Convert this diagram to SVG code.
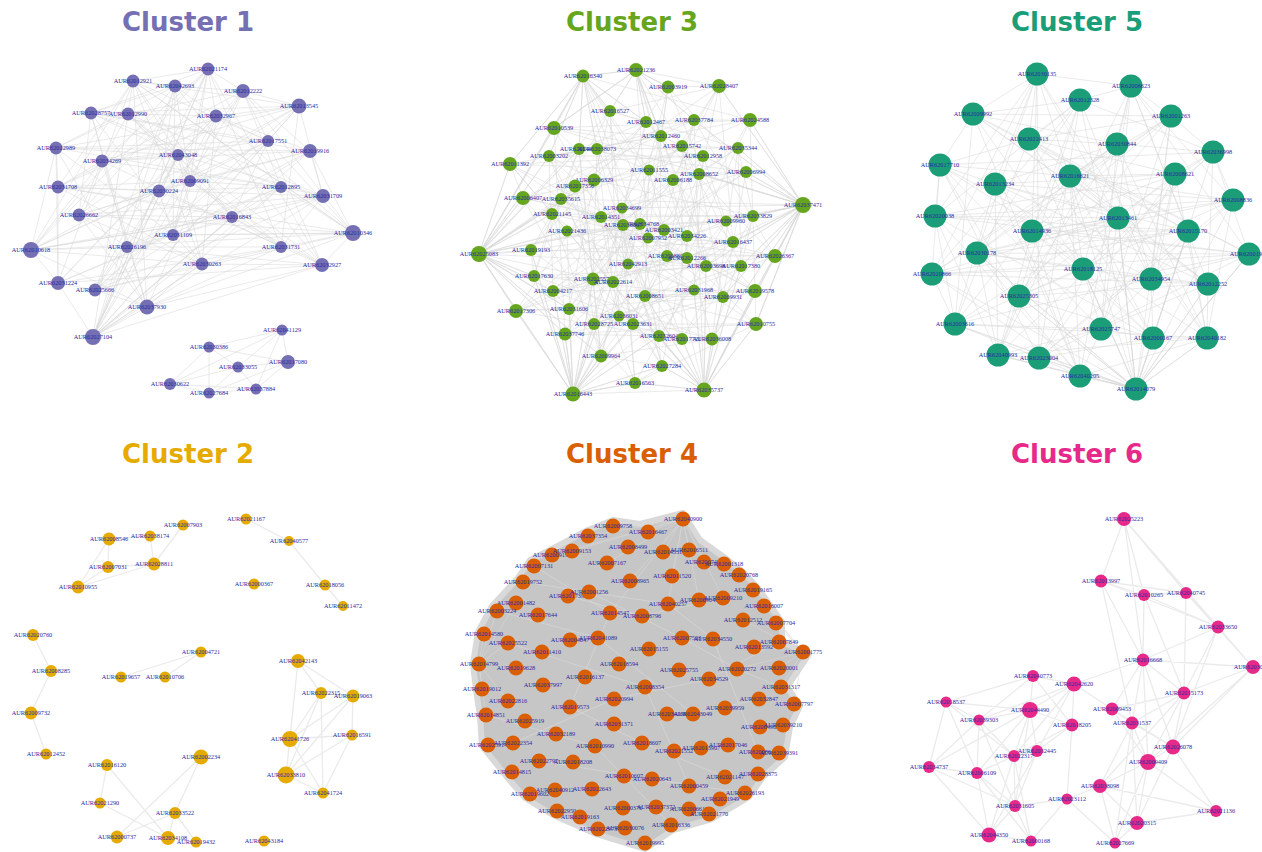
<svg xmlns="http://www.w3.org/2000/svg" width="1262" height="852" viewBox="0 0 1262 852">
<style>
.title{font-family:"DejaVu Sans",Verdana,sans-serif;font-weight:bold;font-size:26px;text-anchor:middle}
.nodes text{font-family:"Liberation Serif","Times New Roman",serif;font-size:6.3px;fill:#2a2aa0;text-anchor:middle}
.e{fill:none;stroke:#d9d9d9;stroke-width:.55;stroke-linejoin:round}
.es{fill:none;stroke:#ebebeb;stroke-width:1.3}
.c1 circle{fill:#7570b3}
.c2 circle{fill:#e6ab02}
.c3 circle{fill:#66a61e}
.c4 circle{fill:#d95f02}
.c5 circle{fill:#1b9e77}
.c6 circle{fill:#e7298a}
</style>
<rect width="1262" height="852" fill="#fff"/>

<!-- cluster titles -->
<g id="titles">
<text class="title" x="188" y="31" fill="#7570b3">Cluster 1</text>
<text class="title" x="632" y="31" fill="#66a61e">Cluster 3</text>
<text class="title" x="1077" y="31" fill="#1b9e77">Cluster 5</text>
<text class="title" x="188" y="463" fill="#e6ab02">Cluster 2</text>
<text class="title" x="632" y="463" fill="#d95f02">Cluster 4</text>
<text class="title" x="1077" y="463" fill="#e7298a">Cluster 6</text>
</g>

<g id="connectors">
<!-- cluster 1 -->
<g id="edges-c1" class="e">
<path d="M208 69L133 81L175 86L243 91L299 106L91 113L128 114L216 116L268 141L56 148L310 151L102 161L178 155L190 181L58 187L159 191L281 187L323 196L79 215L232 217L173 235L353 233L31 250L127 247L281 247L202 264L322 265L58 283L95 290L147 307L93 337Z"/>
<path d="M208 69L243 91L128 114L56 148L178 155L159 191L79 215L353 233L281 247L58 283L93 337L175 86L91 113L268 141L102 161L58 187L323 196L173 235L127 247L322 265L147 307L133 81L299 106L216 116L310 151L190 181L281 187L232 217L31 250L202 264L95 290Z"/>
<path d="M208 69L216 116L58 187L353 233L95 290L299 106L102 161L79 215L202 264L133 81L268 141L159 191L31 250L147 307L91 113L178 155L232 217L322 265L175 86L56 148L281 187L127 247L93 337L128 114L190 181L173 235L58 283L243 91L310 151L323 196L281 247Z"/>
<path d="M208 69L102 161L31 250L175 86L190 181L281 247L299 106L159 191L322 265L128 114L323 196L95 290L268 141L232 217L93 337L310 151L353 233L133 81L178 155L127 247L243 91L58 187L202 264L91 113L281 187L58 283L216 116L79 215L147 307L56 148L173 235Z"/>
<path d="M208 69L190 181L322 265L268 141L353 233L243 91L281 187L147 307L102 161L281 247L128 114L232 217L133 81L58 187L58 283L56 148L31 250L299 106L323 196L93 337L178 155L202 264L216 116L173 235L175 86L159 191L95 290L310 151L127 247L91 113L79 215Z"/>
<path d="M208 69L91 113L310 151L159 191L173 235L202 264L93 337L299 106L56 148L58 187L232 217L281 247L147 307L243 91L268 141L190 181L79 215L127 247L95 290L175 86L216 116L178 155L323 196L31 250L58 283L133 81L128 114L102 161L281 187L353 233L322 265Z"/>
<path d="M93 337L208 69M93 337L243 91M93 337L299 106M93 337L216 116M93 337L178 155M93 337L232 217M93 337L281 187M93 337L202 264M93 337L322 265M31 250L133 81M31 250L208 69M31 250L232 217M31 250L159 191M353 233L133 81M353 233L216 116M353 233L173 235M353 233L147 307"/>
<path d="M282 330L209 347M282 330L288 362M282 330L238 367M282 330L256 389M209 347L288 362M209 347L238 367M209 347L170 384M209 347L209 393M288 362L238 367M288 362L256 389M288 362L209 393M238 367L170 384M238 367L209 393M238 367L256 389M170 384L209 393M170 384L256 389M209 393L256 389M170 384L282 330"/>
</g>
<!-- cluster 3 -->
<g id="edges-c3" class="e">
<path d="M583 76L636 70L668 87L719 86L610 111L646 122L694 120L750 120L554 128L661 136L682 146L738 148L579 149L597 149L549 156L703 156L510 164L649 170L699 174L746 172L673 180L594 180L575 186L523 198L561 199L803 205L622 208L601 217L753 216L552 214L640 224L623 225L726 221L567 231L664 230L687 236L648 238L733 242L479 254L531 250L775 256L667 256L687 258L628 264L706 266L741 266L534 276L593 279L613 282L553 291L694 290L755 291L645 296L723 297L516 311L569 309L619 316L594 324L633 324L756 324L565 334L659 336L682 339L712 339L601 356L662 366L635 383L573 394L704 390"/>
<path d="M583 76L750 120L549 156L594 180L753 216L687 236L687 258L553 291L619 316L712 339L636 70L554 128L703 156L575 186L552 214L648 238L628 264L694 290L594 324L601 356L668 87L661 136L510 164L523 198L640 224L733 242L706 266L755 291L633 324L662 366L719 86L682 146L649 170L561 199L623 225L479 254L741 266L645 296L756 324L635 383L610 111L738 148L699 174L803 205L726 221L531 250L534 276L723 297L565 334L573 394L646 122L579 149L746 172L622 208L567 231L775 256L593 279L516 311L659 336L704 390L694 120L597 149L673 180L601 217L664 230L667 256L613 282L569 309L682 339Z"/>
<path d="M583 76L649 170L664 230L755 291L704 390L510 164L567 231L694 290L573 394L703 156L726 221L553 291L635 383L549 156L623 225L613 282L662 366L597 149L640 224L593 279L601 356L579 149L552 214L534 276L712 339L738 148L753 216L741 266L682 339L682 146L601 217L706 266L659 336L661 136L622 208L628 264L565 334L554 128L803 205L687 258L756 324L750 120L561 199L667 256L633 324L694 120L523 198L775 256L594 324L646 122L575 186L531 250L619 316L610 111L594 180L479 254L569 309L719 86L673 180L733 242L516 311L668 87L746 172L648 238L723 297L636 70L699 174L687 236L645 296Z"/>
<path d="M583 76L664 230L704 390L567 231L573 394L726 221L635 383L623 225L662 366L640 224L601 356L552 214L712 339L753 216L682 339L601 217L659 336L622 208L565 334L803 205L756 324L561 199L633 324L523 198L594 324L575 186L619 316L594 180L569 309L673 180L516 311L746 172L723 297L699 174L645 296L649 170L755 291L510 164L694 290L703 156L553 291L549 156L613 282L597 149L593 279L579 149L534 276L738 148L741 266L682 146L706 266L661 136L628 264L554 128L687 258L750 120L667 256L694 120L775 256L646 122L531 250L610 111L479 254L719 86L733 242L668 87L648 238L636 70L687 236Z"/>
<path d="M479 254L583 76L479 254L554 128L479 254L510 164L479 254L523 198L479 254L549 156L479 254L552 214L479 254L534 276L479 254L516 311L479 254L565 334L479 254L573 394L479 254L553 291L479 254L567 231L479 254L561 199L479 254L579 149L479 254L569 309L479 254L601 356L479 254L594 180L479 254L640 224L479 254L613 282"/>
<path d="M803 205L719 86L803 205L750 120L803 205L738 148L803 205L746 172L803 205L753 216L803 205L775 256L803 205L741 266L803 205L755 291L803 205L756 324L803 205L704 390L803 205L733 242L803 205L726 221L803 205L703 156L803 205L699 174L803 205L723 297L803 205L694 120L803 205L706 266L803 205L712 339L803 205L664 230"/>
<path d="M573 394L516 311L573 394L565 334L573 394L601 356L573 394L635 383L573 394L594 324L573 394L569 309L573 394L553 291L573 394L534 276L573 394L531 250L573 394L593 279L573 394L613 282L573 394L619 316L573 394L633 324L573 394L659 336L573 394L662 366L573 394L645 296"/>
<path d="M704 390L756 324L704 390L712 339L704 390L682 339L704 390L662 366L704 390L635 383L704 390L659 336L704 390L723 297L704 390L755 291L704 390L694 290L704 390L645 296L704 390L633 324L704 390L741 266L704 390L706 266L704 390L775 256"/>
<path d="M583 76L554 128L583 76L610 111L583 76L549 156L583 76L579 149L583 76L597 149L583 76L646 122L583 76L510 164L583 76L636 70L668 87L636 70L610 111L636 70L646 122L636 70L661 136L636 70L694 120L636 70L554 128L636 70L719 86"/>
</g>
<!-- cluster 5 -->
<g id="edges-c5" class="e">
<path d="M1037 74L1131 86L1080 100L973 114L1171 116L1029 139L1117 144L1213 152L940 165L1070 176L1175 174L995 184L1233 200L935 216L1118 218L1032 231L1188 231L977 253L1249 254L932 274L1083 269L1151 279L1208 284L1019 296L955 324L1101 329L1153 338L1207 338L998 355L1039 358L1080 376L1136 389Z"/>
<path d="M1037 74L973 114L1117 144L1070 176L1233 200L1032 231L1249 254L1151 279L955 324L1207 338L1080 376L1131 86L1171 116L1213 152L1175 174L935 216L1188 231L932 274L1208 284L1101 329L998 355L1136 389L1080 100L1029 139L940 165L995 184L1118 218L977 253L1083 269L1019 296L1153 338L1039 358Z"/>
<path d="M1037 74L1029 139L1175 174L1032 231L1083 269L1101 329L1080 376L973 114L940 165L935 216L1249 254L1019 296L998 355L1131 86L1117 144L995 184L1188 231L1151 279L1153 338L1136 389L1171 116L1070 176L1118 218L932 274L955 324L1039 358L1080 100L1213 152L1233 200L977 253L1208 284L1207 338Z"/>
<path d="M1037 74L995 184L1208 284L1131 86L1233 200L1019 296L1080 100L935 216L955 324L973 114L1118 218L1101 329L1171 116L1032 231L1153 338L1029 139L1188 231L1207 338L1117 144L977 253L998 355L1213 152L1249 254L1039 358L940 165L932 274L1080 376L1070 176L1083 269L1136 389L1175 174L1151 279Z"/>
<path d="M1037 74L935 216L1153 338L1213 152L1083 269L1131 86L1118 218L1207 338L940 165L1151 279L1080 100L1032 231L998 355L1070 176L1208 284L973 114L1188 231L1039 358L1175 174L1019 296L1171 116L977 253L1080 376L995 184L955 324L1029 139L1249 254L1136 389L1233 200L1101 329L1117 144L932 274Z"/>
<path d="M1037 74L1032 231L1080 376L935 216L998 355L995 184L1153 338L1070 176L955 324L1213 152L1208 284L1029 139L1083 269L973 114L1249 254L1131 86L1188 231L1136 389L1118 218L1039 358L1233 200L1207 338L1175 174L1101 329L940 165L1019 296L1117 144L1151 279L1171 116L932 274L1080 100L977 253Z"/>
<path d="M1136 389L1039 358L1136 389L998 355L1136 389L955 324L1136 389L1019 296L1136 389L1083 269L1136 389L1118 218L1136 389L1188 231L1136 389L1208 284L1136 389L1207 338L1136 389L1249 254L1136 389L977 253L1136 389L932 274"/>
</g>
<!-- cluster 4: edges dense enough to merge into a grey mass -->
<g id="edges-c4">
<path d="M683 513L640 524L613 520L588 530L552 549L530 560L518 578L492 606L478 632L473 664L476 690L480 716L482 746L506 776L525 798L553 815L596 834L645 849L673 830L712 819L749 797L763 777L785 757L790 727L800 706L787 687L809 654L782 642L782 622L770 605L758 588L743 572L728 560L700 540Z" fill="#c6c6c6" stroke="#d9d9d9" stroke-width="6" stroke-linejoin="round"/>
<path class="e" d="M683 519L613 526M683 519L588 536M683 519L648 532M683 519L663 552M683 519L689 550M683 519L704 562M683 519L724 564M683 519L739 575M683 519L607 563M683 519L672 576M683 519L630 581M683 519L610 613M683 519L668 604M683 519L699 600M683 519L723 598M683 519L572 551M683 519L552 555M803 652L764 606M803 652L776 623M803 652L779 642M803 652L779 668M803 652L781 687M803 652L794 704M803 652L737 669M803 652L754 647M803 652L743 620M803 652L753 590M479 664L484 634M479 664L497 611M479 664L482 689M479 664L486 715M479 664L508 643M479 664L516 668M479 664L508 701M479 664L516 603"/>
<path d="M534 566L610 613L570 707L642 743L725 777M523 582L668 604L713 639L758 752M497 611L598 638L693 714L759 699M508 643L645 687L689 786M486 715L595 746L671 825M513 743L614 699L709 679L779 642M539 761L652 779L745 793M568 596L642 616L723 598M589 592L682 638L737 669L781 687" fill="none" stroke="#dcdcdc" stroke-width=".8" opacity=".7"/>
</g>
<!-- cluster 2 -->
<g id="edges-c2" class="es">
<path d="M109 539L150 536M109 539L108 567M109 539L78 587M150 536L154 564M183 525L154 564M108 567L154 564M78 587L154 564M108 567L78 587M246 519L289 541L325 585L343 606M33 635L51 671L31 713L46 754M201 652L121 677M201 652L165 677M298 661L321 693M298 661L353 696M298 661L290 739M298 661L286 775M321 693L353 696M321 693L290 739M321 693L286 775M321 693L323 793M353 696L352 735M353 696L290 739M353 696L286 775M352 735L290 739M352 735L286 775M290 739L286 775M290 739L323 793M286 775L323 793M352 735L323 793M107 765L100 803M107 765L168 838M100 803L168 838M201 757L175 813M201 757L117 837M175 813L168 838M175 813L196 842M175 813L117 837"/>
</g>
<!-- cluster 6 -->
<g id="edges-c6" class="es">
<path d="M1124 519L1101 581M1124 519L1144 595M1124 519L1186 593M1124 519L1218 627M1124 519L1143 660M1101 581L1144 595M1101 581L1186 593M1101 581L1143 660M1101 581L1218 627M1101 581L1132 723M1144 595L1186 593M1144 595L1218 627M1144 595L1143 660M1144 595L1184 693M1186 593L1218 627M1186 593L1184 693M1186 593L1253 667M1218 627L1253 667M1218 627L1143 660M1218 627L1184 693M1218 627L1173 747M1143 660L1253 667M1143 660L1074 684M1143 660L1184 693M1143 660L1132 723M1143 660L1173 747M1143 660L1148 762M1143 660L1112 709M1253 667L1173 747M1253 667L1184 693M1253 667L1148 762M1033 676L1074 684M1033 676L946 702M1033 676L1030 710M1033 676L979 720M1033 676L1072 725M1074 684L1030 710M1074 684L1112 709M1074 684L1072 725M1074 684L1037 751M1074 684L1014 756M1074 684L979 720M1184 693L1132 723M1184 693L1173 747M1184 693L1148 762M1184 693L1112 709M1184 693L1100 786M946 702L1030 710M946 702L979 720M946 702L929 767M946 702L977 773M946 702L1014 756M1030 710L979 720M1030 710L1072 725M1030 710L1037 751M1030 710L1014 756M1030 710L929 767M1030 710L977 773M1030 710L1015 806M1112 709L1132 723M1112 709L1173 747M1112 709L1148 762M979 720L929 767M979 720L977 773M979 720L1014 756M979 720L1015 806M1132 723L1173 747M1132 723L1148 762M1132 723L1100 786M1132 723L1137 823M1132 723L1115 843M1072 725L1037 751M1072 725L1067 799M1072 725L1014 756M1173 747L1148 762M1173 747L1216 811M1173 747L1137 823M1037 751L1014 756M1037 751L1015 806M1037 751L989 835M1014 756L1015 806M1014 756L977 773M1014 756L989 835M1014 756L1031 841M1148 762L1100 786M1148 762L1216 811M1148 762L1137 823M1148 762L1115 843M929 767L977 773M929 767L989 835M929 767L1015 806M977 773L1015 806M977 773L989 835M977 773L1031 841M1100 786L1067 799M1100 786L1137 823M1100 786L1115 843M1100 786L1216 811M1067 799L1015 806M1067 799L1115 843M1067 799L1031 841M1015 806L989 835M1015 806L1031 841M1216 811L1137 823M1137 823L1115 843M989 835L1031 841"/>
</g>
</g>

<g id="nodes" class="nodes">
<g id="cluster-1" class="c1">
<g id="c1-21174"><circle cx="208" cy="69" r="6.5"/><text x="208" y="71.1">AUR62021174</text></g>
<g id="c1-12921"><circle cx="133" cy="81" r="6.5"/><text x="133" y="83.1">AUR62012921</text></g>
<g id="c1-42693"><circle cx="175" cy="86" r="6.5"/><text x="175" y="88.1">AUR62042693</text></g>
<g id="c1-12222"><circle cx="243" cy="91" r="7"/><text x="243" y="93.1">AUR62012222</text></g>
<g id="c1-13545"><circle cx="299" cy="106" r="7.5"/><text x="299" y="108.1">AUR62013545</text></g>
<g id="c1-28757"><circle cx="91" cy="113" r="6.5"/><text x="91" y="115.1">AUR62028757</text></g>
<g id="c1-12990"><circle cx="128" cy="114" r="6.5"/><text x="128" y="116.1">AUR62012990</text></g>
<g id="c1-32967"><circle cx="216" cy="116" r="6.5"/><text x="216" y="118.1">AUR62032967</text></g>
<g id="c1-17551"><circle cx="268" cy="141" r="6"/><text x="268" y="143.1">AUR62017551</text></g>
<g id="c1-12989"><circle cx="56" cy="148" r="6.5"/><text x="56" y="150.1">AUR62012989</text></g>
<g id="c1-19916"><circle cx="310" cy="151" r="7"/><text x="310" y="153.1">AUR62019916</text></g>
<g id="c1-34269"><circle cx="102" cy="161" r="6.5"/><text x="102" y="163.1">AUR62034269</text></g>
<g id="c1-43048"><circle cx="178" cy="155" r="6"/><text x="178" y="157.1">AUR62043048</text></g>
<g id="c1-09091"><circle cx="190" cy="181" r="6"/><text x="190" y="183.1">AUR62009091</text></g>
<g id="c1-31708"><circle cx="58" cy="187" r="6.5"/><text x="58" y="189.1">AUR62031708</text></g>
<g id="c1-30224"><circle cx="159" cy="191" r="6.5"/><text x="159" y="193.1">AUR62030224</text></g>
<g id="c1-12895"><circle cx="281" cy="187" r="6"/><text x="281" y="189.1">AUR62012895</text></g>
<g id="c1-31709"><circle cx="323" cy="196" r="7"/><text x="323" y="198.1">AUR62031709</text></g>
<g id="c1-26662"><circle cx="79" cy="215" r="6.5"/><text x="79" y="217.1">AUR62026662</text></g>
<g id="c1-16843"><circle cx="232" cy="217" r="6"/><text x="232" y="219.1">AUR62016843</text></g>
<g id="c1-31109"><circle cx="173" cy="235" r="6"/><text x="173" y="237.1">AUR62031109</text></g>
<g id="c1-10346"><circle cx="353" cy="233" r="8"/><text x="353" y="235.1">AUR62010346</text></g>
<g id="c1-10618"><circle cx="31" cy="250" r="8"/><text x="31" y="252.1">AUR62010618</text></g>
<g id="c1-26196"><circle cx="127" cy="247" r="6"/><text x="127" y="249.1">AUR62026196</text></g>
<g id="c1-31731"><circle cx="281" cy="247" r="6"/><text x="281" y="249.1">AUR62031731</text></g>
<g id="c1-30263"><circle cx="202" cy="264" r="6.5"/><text x="202" y="266.1">AUR62030263</text></g>
<g id="c1-32927"><circle cx="322" cy="265" r="7"/><text x="322" y="267.1">AUR62032927</text></g>
<g id="c1-31224"><circle cx="58" cy="283" r="7"/><text x="58" y="285.1">AUR62031224</text></g>
<g id="c1-25666"><circle cx="95" cy="290" r="6.5"/><text x="95" y="292.1">AUR62025666</text></g>
<g id="c1-37930"><circle cx="147" cy="307" r="7.5"/><text x="147" y="309.1">AUR62037930</text></g>
<g id="c1-27104"><circle cx="93" cy="337" r="8"/><text x="93" y="339.1">AUR62027104</text></g>
<g id="c1-41129"><circle cx="282" cy="330" r="5.5"/><text x="282" y="332.1">AUR62041129</text></g>
<g id="c1-30386"><circle cx="209" cy="347" r="5.5"/><text x="209" y="349.1">AUR62030386</text></g>
<g id="c1-17080"><circle cx="288" cy="362" r="7"/><text x="288" y="364.1">AUR62017080</text></g>
<g id="c1-33055"><circle cx="238" cy="367" r="5.5"/><text x="238" y="369.1">AUR62033055</text></g>
<g id="c1-30622"><circle cx="170" cy="384" r="6"/><text x="170" y="386.1">AUR62030622</text></g>
<g id="c1-27684"><circle cx="209" cy="393" r="5.5"/><text x="209" y="395.1">AUR62027684</text></g>
<g id="c1-37884"><circle cx="256" cy="389" r="5.5"/><text x="256" y="391.1">AUR62037884</text></g>
</g>

<g id="cluster-3" class="c3">
<g id="c3-16340"><circle cx="583" cy="76" r="6.5"/><text x="583" y="78.1">AUR62016340</text></g>
<g id="c3-21236"><circle cx="636" cy="70" r="7"/><text x="636" y="72.1">AUR62021236</text></g>
<g id="c3-03919"><circle cx="668" cy="87" r="6.5"/><text x="668" y="89.1">AUR62003919</text></g>
<g id="c3-28407"><circle cx="719" cy="86" r="7"/><text x="719" y="88.1">AUR62028407</text></g>
<g id="c3-16527"><circle cx="610" cy="111" r="6"/><text x="610" y="113.1">AUR62016527</text></g>
<g id="c3-12467"><circle cx="646" cy="122" r="6"/><text x="646" y="124.1">AUR62012467</text></g>
<g id="c3-37784"><circle cx="694" cy="120" r="6"/><text x="694" y="122.1">AUR62037784</text></g>
<g id="c3-24588"><circle cx="750" cy="120" r="7"/><text x="750" y="122.1">AUR62024588</text></g>
<g id="c3-10539"><circle cx="554" cy="128" r="7"/><text x="554" y="130.1">AUR62010539</text></g>
<g id="c3-12460"><circle cx="661" cy="136" r="6"/><text x="661" y="138.1">AUR62012460</text></g>
<g id="c3-15742"><circle cx="682" cy="146" r="6"/><text x="682" y="148.1">AUR62015742</text></g>
<g id="c3-35344"><circle cx="738" cy="148" r="6"/><text x="738" y="150.1">AUR62035344</text></g>
<g id="c3-24417"><circle cx="579" cy="149" r="6"/><text x="579" y="151.1">AUR62024417</text></g>
<g id="c3-38073"><circle cx="597" cy="149" r="6"/><text x="597" y="151.1">AUR62038073</text></g>
<g id="c3-03202"><circle cx="549" cy="156" r="6"/><text x="549" y="158.1">AUR62003202</text></g>
<g id="c3-12958"><circle cx="703" cy="156" r="6"/><text x="703" y="158.1">AUR62012958</text></g>
<g id="c3-11392"><circle cx="510" cy="164" r="7"/><text x="510" y="166.1">AUR62011392</text></g>
<g id="c3-11555"><circle cx="649" cy="170" r="5.5"/><text x="649" y="172.1">AUR62011555</text></g>
<g id="c3-08652"><circle cx="699" cy="174" r="6"/><text x="699" y="176.1">AUR62008652</text></g>
<g id="c3-06994"><circle cx="746" cy="172" r="6"/><text x="746" y="174.1">AUR62006994</text></g>
<g id="c3-06188"><circle cx="673" cy="180" r="6"/><text x="673" y="182.1">AUR62006188</text></g>
<g id="c3-06329"><circle cx="594" cy="180" r="6.5"/><text x="594" y="182.1">AUR62006329</text></g>
<g id="c3-17356"><circle cx="575" cy="186" r="6.5"/><text x="575" y="188.1">AUR62017356</text></g>
<g id="c3-06407"><circle cx="523" cy="198" r="7"/><text x="523" y="200.1">AUR62006407</text></g>
<g id="c3-35615"><circle cx="561" cy="199" r="6"/><text x="561" y="201.1">AUR62035615</text></g>
<g id="c3-37471"><circle cx="803" cy="205" r="8"/><text x="803" y="207.1">AUR62037471</text></g>
<g id="c3-34699"><circle cx="622" cy="208" r="5.5"/><text x="622" y="210.1">AUR62034699</text></g>
<g id="c3-14351"><circle cx="601" cy="217" r="6"/><text x="601" y="219.1">AUR62014351</text></g>
<g id="c3-33829"><circle cx="753" cy="216" r="6"/><text x="753" y="218.1">AUR62033829</text></g>
<g id="c3-21145"><circle cx="552" cy="214" r="6"/><text x="552" y="216.1">AUR62021145</text></g>
<g id="c3-34768"><circle cx="640" cy="224" r="6"/><text x="640" y="226.1">AUR62034768</text></g>
<g id="c3-36067"><circle cx="623" cy="225" r="6"/><text x="623" y="227.1">AUR62036067</text></g>
<g id="c3-09960"><circle cx="726" cy="221" r="5.5"/><text x="726" y="223.1">AUR62009960</text></g>
<g id="c3-21436"><circle cx="567" cy="231" r="5.5"/><text x="567" y="233.1">AUR62021436</text></g>
<g id="c3-03421"><circle cx="664" cy="230" r="6"/><text x="664" y="232.1">AUR62003421</text></g>
<g id="c3-34226"><circle cx="687" cy="236" r="6"/><text x="687" y="238.1">AUR62034226</text></g>
<g id="c3-07952"><circle cx="648" cy="238" r="5.5"/><text x="648" y="240.1">AUR62007952</text></g>
<g id="c3-16437"><circle cx="733" cy="242" r="6"/><text x="733" y="244.1">AUR62016437</text></g>
<g id="c3-25083"><circle cx="479" cy="254" r="8"/><text x="479" y="256.1">AUR62025083</text></g>
<g id="c3-19193"><circle cx="531" cy="250" r="6"/><text x="531" y="252.1">AUR62019193</text></g>
<g id="c3-26367"><circle cx="775" cy="256" r="7"/><text x="775" y="258.1">AUR62026367</text></g>
<g id="c3-08802"><circle cx="667" cy="256" r="6"/><text x="667" y="258.1">AUR62008802</text></g>
<g id="c3-12266"><circle cx="687" cy="258" r="6"/><text x="687" y="260.1">AUR62012266</text></g>
<g id="c3-42913"><circle cx="628" cy="264" r="5.5"/><text x="628" y="266.1">AUR62042913</text></g>
<g id="c3-03698"><circle cx="706" cy="266" r="6"/><text x="706" y="268.1">AUR62003698</text></g>
<g id="c3-17380"><circle cx="741" cy="266" r="6"/><text x="741" y="268.1">AUR62017380</text></g>
<g id="c3-17630"><circle cx="534" cy="276" r="6"/><text x="534" y="278.1">AUR62017630</text></g>
<g id="c3-25572"><circle cx="593" cy="279" r="6.5"/><text x="593" y="281.1">AUR62025572</text></g>
<g id="c3-22614"><circle cx="613" cy="282" r="6"/><text x="613" y="284.1">AUR62022614</text></g>
<g id="c3-04217"><circle cx="553" cy="291" r="6"/><text x="553" y="293.1">AUR62004217</text></g>
<g id="c3-31968"><circle cx="694" cy="290" r="5.5"/><text x="694" y="292.1">AUR62031968</text></g>
<g id="c3-19578"><circle cx="755" cy="291" r="7"/><text x="755" y="293.1">AUR62019578</text></g>
<g id="c3-08651"><circle cx="645" cy="296" r="6"/><text x="645" y="298.1">AUR62008651</text></g>
<g id="c3-09931"><circle cx="723" cy="297" r="6"/><text x="723" y="299.1">AUR62009931</text></g>
<g id="c3-17306"><circle cx="516" cy="311" r="7"/><text x="516" y="313.1">AUR62017306</text></g>
<g id="c3-31606"><circle cx="569" cy="309" r="6"/><text x="569" y="311.1">AUR62031606</text></g>
<g id="c3-36031"><circle cx="619" cy="316" r="5.5"/><text x="619" y="318.1">AUR62036031</text></g>
<g id="c3-28725"><circle cx="594" cy="324" r="6"/><text x="594" y="326.1">AUR62028725</text></g>
<g id="c3-23631"><circle cx="633" cy="324" r="6"/><text x="633" y="326.1">AUR62023631</text></g>
<g id="c3-10755"><circle cx="756" cy="324" r="7"/><text x="756" y="326.1">AUR62010755</text></g>
<g id="c3-37746"><circle cx="565" cy="334" r="6.5"/><text x="565" y="336.1">AUR62037746</text></g>
<g id="c3-32604"><circle cx="659" cy="336" r="6"/><text x="659" y="338.1">AUR62032604</text></g>
<g id="c3-17721"><circle cx="682" cy="339" r="6"/><text x="682" y="341.1">AUR62017721</text></g>
<g id="c3-36008"><circle cx="712" cy="339" r="6.5"/><text x="712" y="341.1">AUR62036008</text></g>
<g id="c3-09964"><circle cx="601" cy="356" r="6.5"/><text x="601" y="358.1">AUR62009964</text></g>
<g id="c3-27284"><circle cx="662" cy="366" r="6"/><text x="662" y="368.1">AUR62027284</text></g>
<g id="c3-16563"><circle cx="635" cy="383" r="6"/><text x="635" y="385.1">AUR62016563</text></g>
<g id="c3-16443"><circle cx="573" cy="394" r="7.5"/><text x="573" y="396.1">AUR62016443</text></g>
<g id="c3-35737"><circle cx="704" cy="390" r="7.5"/><text x="704" y="392.1">AUR62035737</text></g>
</g>

<g id="cluster-5" class="c5">
<g id="c5-30135"><circle cx="1037" cy="74" r="11.5"/><text x="1037" y="76.1">AUR62030135</text></g>
<g id="c5-06623"><circle cx="1131" cy="86" r="11.5"/><text x="1131" y="88.1">AUR62006623</text></g>
<g id="c5-12328"><circle cx="1080" cy="100" r="11.5"/><text x="1080" y="102.1">AUR62012328</text></g>
<g id="c5-09992"><circle cx="973" cy="114" r="11.5"/><text x="973" y="116.1">AUR62009992</text></g>
<g id="c5-01263"><circle cx="1171" cy="116" r="11.5"/><text x="1171" y="118.1">AUR62001263</text></g>
<g id="c5-22413"><circle cx="1029" cy="139" r="11.5"/><text x="1029" y="141.1">AUR62022413</text></g>
<g id="c5-30844"><circle cx="1117" cy="144" r="11.5"/><text x="1117" y="146.1">AUR62030844</text></g>
<g id="c5-36998"><circle cx="1213" cy="152" r="11.5"/><text x="1213" y="154.1">AUR62036998</text></g>
<g id="c5-17710"><circle cx="940" cy="165" r="11.5"/><text x="940" y="167.1">AUR62017710</text></g>
<g id="c5-16621"><circle cx="1070" cy="176" r="11.5"/><text x="1070" y="178.1">AUR62016621</text></g>
<g id="c5-08621"><circle cx="1175" cy="174" r="11.5"/><text x="1175" y="176.1">AUR62008621</text></g>
<g id="c5-13234"><circle cx="995" cy="184" r="11.5"/><text x="995" y="186.1">AUR62013234</text></g>
<g id="c5-08836"><circle cx="1233" cy="200" r="11.5"/><text x="1233" y="202.1">AUR62008836</text></g>
<g id="c5-20038"><circle cx="935" cy="216" r="11.5"/><text x="935" y="218.1">AUR62020038</text></g>
<g id="c5-13461"><circle cx="1118" cy="218" r="11.5"/><text x="1118" y="220.1">AUR62013461</text></g>
<g id="c5-14936"><circle cx="1032" cy="231" r="11.5"/><text x="1032" y="233.1">AUR62014936</text></g>
<g id="c5-15170"><circle cx="1188" cy="231" r="11.5"/><text x="1188" y="233.1">AUR62015170</text></g>
<g id="c5-30178"><circle cx="977" cy="253" r="11.5"/><text x="977" y="255.1">AUR62030178</text></g>
<g id="c5-01919"><circle cx="1249" cy="254" r="11.5"/><text x="1249" y="256.1">AUR62001919</text></g>
<g id="c5-20866"><circle cx="932" cy="274" r="11.5"/><text x="932" y="276.1">AUR62020866</text></g>
<g id="c5-18125"><circle cx="1083" cy="269" r="11.5"/><text x="1083" y="271.1">AUR62018125</text></g>
<g id="c5-34954"><circle cx="1151" cy="279" r="11.5"/><text x="1151" y="281.1">AUR62034954</text></g>
<g id="c5-12252"><circle cx="1208" cy="284" r="11.5"/><text x="1208" y="286.1">AUR62012252</text></g>
<g id="c5-25305"><circle cx="1019" cy="296" r="11.5"/><text x="1019" y="298.1">AUR62025305</text></g>
<g id="c5-03616"><circle cx="955" cy="324" r="11.5"/><text x="955" y="326.1">AUR62003616</text></g>
<g id="c5-25747"><circle cx="1101" cy="329" r="11.5"/><text x="1101" y="331.1">AUR62025747</text></g>
<g id="c5-00167"><circle cx="1153" cy="338" r="11.5"/><text x="1153" y="340.1">AUR62000167</text></g>
<g id="c5-40182"><circle cx="1207" cy="338" r="11.5"/><text x="1207" y="340.1">AUR62040182</text></g>
<g id="c5-40993"><circle cx="998" cy="355" r="11.5"/><text x="998" y="357.1">AUR62040993</text></g>
<g id="c5-23004"><circle cx="1039" cy="358" r="11.5"/><text x="1039" y="360.1">AUR62023004</text></g>
<g id="c5-40205"><circle cx="1080" cy="376" r="11.5"/><text x="1080" y="378.1">AUR62040205</text></g>
<g id="c5-14079"><circle cx="1136" cy="389" r="11.5"/><text x="1136" y="391.1">AUR62014079</text></g>
</g>

<g id="cluster-2" class="c2">
<g id="c2-08546"><circle cx="109" cy="539" r="6.5"/><text x="109" y="541.1">AUR62008546</text></g>
<g id="c2-38174"><circle cx="150" cy="536" r="5.5"/><text x="150" y="538.1">AUR62038174</text></g>
<g id="c2-07903"><circle cx="183" cy="525" r="5.5"/><text x="183" y="527.1">AUR62007903</text></g>
<g id="c2-21167"><circle cx="246" cy="519" r="5.5"/><text x="246" y="521.1">AUR62021167</text></g>
<g id="c2-40577"><circle cx="289" cy="541" r="5"/><text x="289" y="543.1">AUR62040577</text></g>
<g id="c2-07031"><circle cx="108" cy="567" r="6"/><text x="108" y="569.1">AUR62007031</text></g>
<g id="c2-28811"><circle cx="154" cy="564" r="6.5"/><text x="154" y="566.1">AUR62028811</text></g>
<g id="c2-10955"><circle cx="78" cy="587" r="6.5"/><text x="78" y="589.1">AUR62010955</text></g>
<g id="c2-00367"><circle cx="254" cy="584" r="5.5"/><text x="254" y="586.1">AUR62000367</text></g>
<g id="c2-18056"><circle cx="325" cy="585" r="5.5"/><text x="325" y="587.1">AUR62018056</text></g>
<g id="c2-11472"><circle cx="343" cy="606" r="5"/><text x="343" y="608.1">AUR62011472</text></g>
<g id="c2-20760"><circle cx="33" cy="635" r="6"/><text x="33" y="637.1">AUR62020760</text></g>
<g id="c2-04721"><circle cx="201" cy="652" r="5.5"/><text x="201" y="654.1">AUR62004721</text></g>
<g id="c2-08285"><circle cx="51" cy="671" r="6"/><text x="51" y="673.1">AUR62008285</text></g>
<g id="c2-19657"><circle cx="121" cy="677" r="5.5"/><text x="121" y="679.1">AUR62019657</text></g>
<g id="c2-10706"><circle cx="165" cy="677" r="5.5"/><text x="165" y="679.1">AUR62010706</text></g>
<g id="c2-42143"><circle cx="298" cy="661" r="7"/><text x="298" y="663.1">AUR62042143</text></g>
<g id="c2-22315"><circle cx="321" cy="693" r="6"/><text x="321" y="695.1">AUR62022315</text></g>
<g id="c2-19063"><circle cx="353" cy="696" r="6.5"/><text x="353" y="698.1">AUR62019063</text></g>
<g id="c2-09732"><circle cx="31" cy="713" r="6.5"/><text x="31" y="715.1">AUR62009732</text></g>
<g id="c2-16591"><circle cx="352" cy="735" r="5.5"/><text x="352" y="737.1">AUR62016591</text></g>
<g id="c2-41726"><circle cx="290" cy="739" r="8"/><text x="290" y="741.1">AUR62041726</text></g>
<g id="c2-12452"><circle cx="46" cy="754" r="5.5"/><text x="46" y="756.1">AUR62012452</text></g>
<g id="c2-02234"><circle cx="201" cy="757" r="7.5"/><text x="201" y="759.1">AUR62002234</text></g>
<g id="c2-16120"><circle cx="107" cy="765" r="6"/><text x="107" y="767.1">AUR62016120</text></g>
<g id="c2-33810"><circle cx="286" cy="775" r="8.5"/><text x="286" y="777.1">AUR62033810</text></g>
<g id="c2-41724"><circle cx="323" cy="793" r="5.5"/><text x="323" y="795.1">AUR62041724</text></g>
<g id="c2-21290"><circle cx="100" cy="803" r="5.5"/><text x="100" y="805.1">AUR62021290</text></g>
<g id="c2-33522"><circle cx="175" cy="813" r="6"/><text x="175" y="815.1">AUR62033522</text></g>
<g id="c2-00737"><circle cx="117" cy="837" r="6.5"/><text x="117" y="839.1">AUR62000737</text></g>
<g id="c2-34108"><circle cx="168" cy="838" r="7"/><text x="168" y="840.1">AUR62034108</text></g>
<g id="c2-19432"><circle cx="196" cy="842" r="5.5"/><text x="196" y="844.1">AUR62019432</text></g>
<g id="c2-43184"><circle cx="264" cy="841" r="5.5"/><text x="264" y="843.1">AUR62043184</text></g>
</g>

<g id="cluster-4" class="c4">
<g id="c4-09758"><circle cx="613" cy="526" r="7.5"/><text x="613" y="528.1">AUR62009758</text></g>
<g id="c4-37354"><circle cx="588" cy="536" r="7.5"/><text x="588" y="538.1">AUR62037354</text></g>
<g id="c4-08499"><circle cx="628" cy="547" r="7.5"/><text x="628" y="549.1">AUR62008499</text></g>
<g id="c4-09192"><circle cx="552" cy="555" r="7.5"/><text x="552" y="557.1">AUR62009192</text></g>
<g id="c4-09153"><circle cx="572" cy="551" r="7.5"/><text x="572" y="553.1">AUR62009153</text></g>
<g id="c4-07167"><circle cx="607" cy="563" r="7.5"/><text x="607" y="565.1">AUR62007167</text></g>
<g id="c4-07131"><circle cx="534" cy="566" r="7.5"/><text x="534" y="568.1">AUR62007131</text></g>
<g id="c4-19752"><circle cx="523" cy="582" r="7.5"/><text x="523" y="584.1">AUR62019752</text></g>
<g id="c4-17390"><circle cx="568" cy="596" r="7.5"/><text x="568" y="598.1">AUR62017390</text></g>
<g id="c4-01256"><circle cx="589" cy="592" r="7.5"/><text x="589" y="594.1">AUR62001256</text></g>
<g id="c4-01482"><circle cx="516" cy="603" r="7.5"/><text x="516" y="605.1">AUR62001482</text></g>
<g id="c4-03224"><circle cx="497" cy="611" r="7.5"/><text x="497" y="613.1">AUR62003224</text></g>
<g id="c4-17644"><circle cx="538" cy="615" r="7.5"/><text x="538" y="617.1">AUR62017644</text></g>
<g id="c4-14547"><circle cx="610" cy="613" r="7.5"/><text x="610" y="615.1">AUR62014547</text></g>
<g id="c4-14580"><circle cx="484" cy="634" r="7.5"/><text x="484" y="636.1">AUR62014580</text></g>
<g id="c4-25522"><circle cx="508" cy="643" r="7.5"/><text x="508" y="645.1">AUR62025522</text></g>
<g id="c4-04647"><circle cx="570" cy="640" r="7.5"/><text x="570" y="642.1">AUR62004647</text></g>
<g id="c4-41089"><circle cx="598" cy="638" r="7.5"/><text x="598" y="640.1">AUR62041089</text></g>
<g id="c4-11410"><circle cx="542" cy="652" r="7.5"/><text x="542" y="654.1">AUR62011410</text></g>
<g id="c4-14799"><circle cx="479" cy="664" r="7.5"/><text x="479" y="666.1">AUR62014799</text></g>
<g id="c4-19628"><circle cx="516" cy="668" r="7.5"/><text x="516" y="670.1">AUR62019628</text></g>
<g id="c4-18594"><circle cx="619" cy="664" r="7.5"/><text x="619" y="666.1">AUR62018594</text></g>
<g id="c4-40900"><circle cx="683" cy="519" r="7.5"/><text x="683" y="521.1">AUR62040900</text></g>
<g id="c4-16467"><circle cx="648" cy="532" r="7.5"/><text x="648" y="534.1">AUR62016467</text></g>
<g id="c4-14531"><circle cx="663" cy="552" r="7.5"/><text x="663" y="554.1">AUR62014531</text></g>
<g id="c4-16511"><circle cx="689" cy="550" r="7.5"/><text x="689" y="552.1">AUR62016511</text></g>
<g id="c4-07491"><circle cx="704" cy="562" r="7.5"/><text x="704" y="564.1">AUR62007491</text></g>
<g id="c4-01318"><circle cx="724" cy="564" r="7.5"/><text x="724" y="566.1">AUR62001318</text></g>
<g id="c4-20768"><circle cx="739" cy="575" r="7.5"/><text x="739" y="577.1">AUR62020768</text></g>
<g id="c4-11520"><circle cx="672" cy="576" r="7.5"/><text x="672" y="578.1">AUR62011520</text></g>
<g id="c4-08965"><circle cx="630" cy="581" r="7.5"/><text x="630" y="583.1">AUR62008965</text></g>
<g id="c4-19165"><circle cx="753" cy="590" r="7.5"/><text x="753" y="592.1">AUR62019165</text></g>
<g id="c4-40257"><circle cx="668" cy="604" r="7.5"/><text x="668" y="606.1">AUR62040257</text></g>
<g id="c4-09046"><circle cx="699" cy="600" r="7.5"/><text x="699" y="602.1">AUR62009046</text></g>
<g id="c4-09210"><circle cx="723" cy="598" r="7.5"/><text x="723" y="600.1">AUR62009210</text></g>
<g id="c4-16007"><circle cx="764" cy="606" r="7.5"/><text x="764" y="608.1">AUR62016007</text></g>
<g id="c4-08796"><circle cx="642" cy="616" r="7.5"/><text x="642" y="618.1">AUR62008796</text></g>
<g id="c4-12512"><circle cx="743" cy="620" r="7.5"/><text x="743" y="622.1">AUR62012512</text></g>
<g id="c4-07704"><circle cx="776" cy="623" r="7.5"/><text x="776" y="625.1">AUR62007704</text></g>
<g id="c4-07503"><circle cx="682" cy="638" r="7.5"/><text x="682" y="640.1">AUR62007503</text></g>
<g id="c4-34550"><circle cx="713" cy="639" r="7.5"/><text x="713" y="641.1">AUR62034550</text></g>
<g id="c4-13592"><circle cx="754" cy="647" r="7.5"/><text x="754" y="649.1">AUR62013592</text></g>
<g id="c4-07849"><circle cx="779" cy="642" r="7.5"/><text x="779" y="644.1">AUR62007849</text></g>
<g id="c4-01775"><circle cx="803" cy="652" r="7.5"/><text x="803" y="654.1">AUR62001775</text></g>
<g id="c4-15155"><circle cx="649" cy="649" r="7.5"/><text x="649" y="651.1">AUR62015155</text></g>
<g id="c4-25755"><circle cx="679" cy="670" r="7.5"/><text x="679" y="672.1">AUR62025755</text></g>
<g id="c4-20272"><circle cx="737" cy="669" r="7.5"/><text x="737" y="671.1">AUR62020272</text></g>
<g id="c4-20001"><circle cx="779" cy="668" r="7.5"/><text x="779" y="670.1">AUR62020001</text></g>
<g id="c4-34529"><circle cx="709" cy="679" r="7.5"/><text x="709" y="681.1">AUR62034529</text></g>
<g id="c4-16137"><circle cx="585" cy="677" r="7.5"/><text x="585" y="679.1">AUR62016137</text></g>
<g id="c4-19012"><circle cx="482" cy="689" r="7.5"/><text x="482" y="691.1">AUR62019012</text></g>
<g id="c4-37997"><circle cx="543" cy="685" r="7.5"/><text x="543" y="687.1">AUR62037997</text></g>
<g id="c4-22816"><circle cx="508" cy="701" r="7.5"/><text x="508" y="703.1">AUR62022816</text></g>
<g id="c4-20994"><circle cx="614" cy="699" r="7.5"/><text x="614" y="701.1">AUR62020994</text></g>
<g id="c4-19573"><circle cx="570" cy="707" r="7.5"/><text x="570" y="709.1">AUR62019573</text></g>
<g id="c4-14851"><circle cx="486" cy="715" r="7.5"/><text x="486" y="717.1">AUR62014851</text></g>
<g id="c4-25919"><circle cx="525" cy="721" r="7.5"/><text x="525" y="723.1">AUR62025919</text></g>
<g id="c4-31371"><circle cx="614" cy="724" r="7.5"/><text x="614" y="726.1">AUR62031371</text></g>
<g id="c4-32189"><circle cx="556" cy="734" r="7.5"/><text x="556" y="736.1">AUR62032189</text></g>
<g id="c4-25914"><circle cx="488" cy="745" r="7.5"/><text x="488" y="747.1">AUR62025914</text></g>
<g id="c4-22354"><circle cx="513" cy="743" r="7.5"/><text x="513" y="745.1">AUR62022354</text></g>
<g id="c4-10990"><circle cx="595" cy="746" r="7.5"/><text x="595" y="748.1">AUR62010990</text></g>
<g id="c4-22797"><circle cx="539" cy="761" r="7.5"/><text x="539" y="763.1">AUR62022797</text></g>
<g id="c4-18208"><circle cx="573" cy="762" r="7.5"/><text x="573" y="764.1">AUR62018208</text></g>
<g id="c4-14815"><circle cx="512" cy="772" r="7.5"/><text x="512" y="774.1">AUR62014815</text></g>
<g id="c4-10607"><circle cx="624" cy="776" r="7.5"/><text x="624" y="778.1">AUR62010607</text></g>
<g id="c4-40912"><circle cx="555" cy="790" r="7.5"/><text x="555" y="792.1">AUR62040912</text></g>
<g id="c4-22643"><circle cx="592" cy="789" r="7.5"/><text x="592" y="791.1">AUR62022643</text></g>
<g id="c4-19602"><circle cx="530" cy="794" r="7.5"/><text x="530" y="796.1">AUR62019602</text></g>
<g id="c4-00376"><circle cx="623" cy="808" r="7.5"/><text x="623" y="810.1">AUR62000376</text></g>
<g id="c4-22950"><circle cx="557" cy="811" r="7.5"/><text x="557" y="813.1">AUR62022950</text></g>
<g id="c4-19163"><circle cx="580" cy="817" r="7.5"/><text x="580" y="819.1">AUR62019163</text></g>
<g id="c4-22973"><circle cx="598" cy="829" r="7.5"/><text x="598" y="831.1">AUR62022973</text></g>
<g id="c4-30076"><circle cx="625" cy="828" r="7.5"/><text x="625" y="830.1">AUR62030076</text></g>
<g id="c4-31317"><circle cx="781" cy="687" r="7.5"/><text x="781" y="689.1">AUR62031317</text></g>
<g id="c4-08354"><circle cx="645" cy="687" r="7.5"/><text x="645" y="689.1">AUR62008354</text></g>
<g id="c4-32847"><circle cx="759" cy="699" r="7.5"/><text x="759" y="701.1">AUR62032847</text></g>
<g id="c4-07797"><circle cx="794" cy="704" r="7.5"/><text x="794" y="706.1">AUR62007797</text></g>
<g id="c4-39959"><circle cx="725" cy="708" r="7.5"/><text x="725" y="710.1">AUR62039959</text></g>
<g id="c4-34168"><circle cx="667" cy="714" r="7.5"/><text x="667" y="716.1">AUR62034168</text></g>
<g id="c4-43049"><circle cx="693" cy="714" r="7.5"/><text x="693" y="716.1">AUR62043049</text></g>
<g id="c4-04969"><circle cx="760" cy="727" r="7.5"/><text x="760" y="729.1">AUR62004969</text></g>
<g id="c4-39210"><circle cx="783" cy="725" r="7.5"/><text x="783" y="727.1">AUR62039210</text></g>
<g id="c4-18607"><circle cx="642" cy="743" r="7.5"/><text x="642" y="745.1">AUR62018607</text></g>
<g id="c4-21552"><circle cx="674" cy="751" r="7.5"/><text x="674" y="753.1">AUR62021552</text></g>
<g id="c4-13907"><circle cx="701" cy="748" r="7.5"/><text x="701" y="750.1">AUR62013907</text></g>
<g id="c4-17046"><circle cx="728" cy="745" r="7.5"/><text x="728" y="747.1">AUR62017046</text></g>
<g id="c4-08640"><circle cx="758" cy="752" r="7.5"/><text x="758" y="754.1">AUR62008640</text></g>
<g id="c4-39391"><circle cx="779" cy="753" r="7.5"/><text x="779" y="755.1">AUR62039391</text></g>
<g id="c4-20643"><circle cx="652" cy="779" r="7.5"/><text x="652" y="781.1">AUR62020643</text></g>
<g id="c4-28375"><circle cx="758" cy="774" r="7.5"/><text x="758" y="776.1">AUR62028375</text></g>
<g id="c4-21147"><circle cx="725" cy="777" r="7.5"/><text x="725" y="779.1">AUR62021147</text></g>
<g id="c4-00459"><circle cx="689" cy="786" r="7.5"/><text x="689" y="788.1">AUR62000459</text></g>
<g id="c4-26193"><circle cx="745" cy="793" r="7.5"/><text x="745" y="795.1">AUR62026193</text></g>
<g id="c4-21949"><circle cx="720" cy="799" r="7.5"/><text x="720" y="801.1">AUR62021949</text></g>
<g id="c4-37372"><circle cx="656" cy="807" r="7.5"/><text x="656" y="809.1">AUR62037372</text></g>
<g id="c4-06618"><circle cx="689" cy="809" r="7.5"/><text x="689" y="811.1">AUR62006618</text></g>
<g id="c4-21770"><circle cx="709" cy="814" r="7.5"/><text x="709" y="816.1">AUR62021770</text></g>
<g id="c4-16336"><circle cx="671" cy="825" r="7.5"/><text x="671" y="827.1">AUR62016336</text></g>
<g id="c4-19995"><circle cx="645" cy="843" r="7.5"/><text x="645" y="845.1">AUR62019995</text></g>
</g>

<g id="cluster-6" class="c6">
<g id="c6-25223"><circle cx="1124" cy="519" r="7"/><text x="1124" y="521.1">AUR62025223</text></g>
<g id="c6-13997"><circle cx="1101" cy="581" r="6.5"/><text x="1101" y="583.1">AUR62013997</text></g>
<g id="c6-10265"><circle cx="1144" cy="595" r="6"/><text x="1144" y="597.1">AUR62010265</text></g>
<g id="c6-40745"><circle cx="1186" cy="593" r="6"/><text x="1186" y="595.1">AUR62040745</text></g>
<g id="c6-33650"><circle cx="1218" cy="627" r="6.5"/><text x="1218" y="629.1">AUR62033650</text></g>
<g id="c6-16668"><circle cx="1143" cy="660" r="6.5"/><text x="1143" y="662.1">AUR62016668</text></g>
<g id="c6-30306"><circle cx="1253" cy="667" r="7"/><text x="1253" y="669.1">AUR62030306</text></g>
<g id="c6-40773"><circle cx="1033" cy="676" r="6"/><text x="1033" y="678.1">AUR62040773</text></g>
<g id="c6-42620"><circle cx="1074" cy="684" r="7.5"/><text x="1074" y="686.1">AUR62042620</text></g>
<g id="c6-15173"><circle cx="1184" cy="693" r="6.5"/><text x="1184" y="695.1">AUR62015173</text></g>
<g id="c6-18537"><circle cx="946" cy="702" r="5.5"/><text x="946" y="704.1">AUR62018537</text></g>
<g id="c6-44490"><circle cx="1030" cy="710" r="8"/><text x="1030" y="712.1">AUR62044490</text></g>
<g id="c6-09453"><circle cx="1112" cy="709" r="6.5"/><text x="1112" y="711.1">AUR62009453</text></g>
<g id="c6-39303"><circle cx="979" cy="720" r="5.5"/><text x="979" y="722.1">AUR62039303</text></g>
<g id="c6-31537"><circle cx="1132" cy="723" r="6.5"/><text x="1132" y="725.1">AUR62031537</text></g>
<g id="c6-18205"><circle cx="1072" cy="725" r="6.5"/><text x="1072" y="727.1">AUR62018205</text></g>
<g id="c6-26078"><circle cx="1173" cy="747" r="7.5"/><text x="1173" y="749.1">AUR62026078</text></g>
<g id="c6-32445"><circle cx="1037" cy="751" r="6"/><text x="1037" y="753.1">AUR62032445</text></g>
<g id="c6-22317"><circle cx="1014" cy="756" r="6"/><text x="1014" y="758.1">AUR62022317</text></g>
<g id="c6-09409"><circle cx="1148" cy="762" r="8"/><text x="1148" y="764.1">AUR62009409</text></g>
<g id="c6-34737"><circle cx="929" cy="767" r="6"/><text x="929" y="769.1">AUR62034737</text></g>
<g id="c6-06109"><circle cx="977" cy="773" r="6"/><text x="977" y="775.1">AUR62006109</text></g>
<g id="c6-38098"><circle cx="1100" cy="786" r="7"/><text x="1100" y="788.1">AUR62038098</text></g>
<g id="c6-23112"><circle cx="1067" cy="799" r="5.5"/><text x="1067" y="801.1">AUR62023112</text></g>
<g id="c6-31605"><circle cx="1015" cy="806" r="6"/><text x="1015" y="808.1">AUR62031605</text></g>
<g id="c6-21136"><circle cx="1216" cy="811" r="6"/><text x="1216" y="813.1">AUR62021136</text></g>
<g id="c6-20315"><circle cx="1137" cy="823" r="7"/><text x="1137" y="825.1">AUR62020315</text></g>
<g id="c6-44350"><circle cx="989" cy="835" r="7.5"/><text x="989" y="837.1">AUR62044350</text></g>
<g id="c6-00168"><circle cx="1031" cy="841" r="5.5"/><text x="1031" y="843.1">AUR62000168</text></g>
<g id="c6-27669"><circle cx="1115" cy="843" r="5.5"/><text x="1115" y="845.1">AUR62027669</text></g>
</g>
</g>
</svg>
